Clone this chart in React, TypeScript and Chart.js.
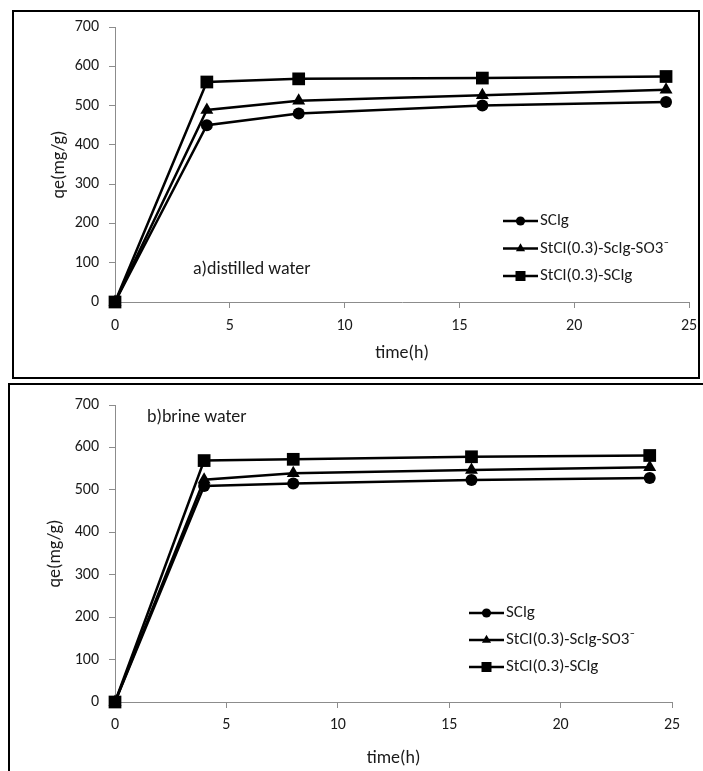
import React, { useEffect, useRef } from "react";
import { Chart, registerables } from "chart.js";

Chart.register(...registerables);

// ---- data ----
const timeH = [0, 4, 8, 16, 24];
const seriesNames = ["SClg", "StCl(0.3)-Sclg-SO3\u207B", "StCl(0.3)-SClg"];
const xTicks = [0, 5, 10, 15, 20, 25];
const yTicks = [0, 100, 200, 300, 400, 500, 600, 700];

const distilledSClg = [0, 450, 480, 500, 509];
const distilledSO3 = [0, 489, 512, 526, 540];
const distilledStCl = [0, 560, 568, 570, 574];

const brineSClg = [0, 509, 515, 523, 528];
const brineSO3 = [0, 524, 539, 547, 553];
const brineStCl = [0, 569, 572, 578, 581];

const panelTitles = ["a)distilled water", "b)brine water"];
const xTitle = "time(h)";
const yTitle = "qe(mg/g)";

// ---- styles ----
const FONT_FAMILY = "Carlito, 'Liberation Sans Narrow', 'Open Sans', sans-serif";
const TICK_SIZE = 16;
const TITLE_SIZE = 18;
const LEGEND_SIZE = 17;
const NOTE_SIZE = 18;
const TEXT = "#1a1a1a";
const AXIS = "#8c8c8c";
const styles = ["circle", "triangle", "rect"];
const radii = [6, 7.5, 9];

function drawMarker(ctx: CanvasRenderingContext2D, kind: string, x: number, y: number, s: number) {
  ctx.beginPath();
  if (kind === "circle") {
    ctx.arc(x, y, s, 0, Math.PI * 2);
  } else if (kind === "triangle") {
    const r = s * 1.15;
    ctx.moveTo(x, y - r);
    ctx.lineTo(x + r * 0.866, y + r * 0.5);
    ctx.lineTo(x - r * 0.866, y + r * 0.5);
    ctx.closePath();
  } else {
    ctx.rect(x - s, y - s, 2 * s, 2 * s);
  }
  ctx.fill();
}

type PanelProps = {
  box: { left: number; top: number; width: number; height: number };
  cw: number;
  ch: number;
  values: number[][];
  padLeft: number;
  yScaleW: number;
  xScaleH: number;
  padRight: number;
  padTop: number;
  xTitlePad: number;
  xTickPad: number;
  legendX: number;
  legendY: number;
  legendGap: number;
  note: string;
  noteX: number;
  noteY: number;
};

function Panel(p: PanelProps) {
  const ref = useRef<HTMLCanvasElement | null>(null);
  useEffect(() => {
    if (!ref.current) return;
    const tickFont = { family: FONT_FAMILY, size: TICK_SIZE };
    const titleFont = { family: FONT_FAMILY, size: TITLE_SIZE };
    const overlay = {
      id: "overlay",
      afterDraw(chart: any) {
        const { ctx, chartArea } = chart;
        ctx.save();
        ctx.fillStyle = TEXT;
        ctx.textBaseline = "middle";
        ctx.textAlign = "left";
        ctx.font = `${NOTE_SIZE}px ${FONT_FAMILY}`;
        ctx.fillText(p.note, chartArea.left + p.noteX, chartArea.top + p.noteY);
        ctx.font = `${LEGEND_SIZE}px ${FONT_FAMILY}`;
        seriesNames.forEach((name, i) => {
          const x0 = chartArea.left + p.legendX;
          const y = chartArea.top + p.legendY + i * p.legendGap;
          ctx.strokeStyle = "#000";
          ctx.lineWidth = 2.5;
          ctx.beginPath();
          ctx.moveTo(x0, y);
          ctx.lineTo(x0 + 35, y);
          ctx.stroke();
          ctx.fillStyle = "#000";
          drawMarker(ctx, styles[i], x0 + 17.5, y, i === 2 ? 5 : 4.6);
          ctx.fillStyle = TEXT;
          ctx.fillText(name, x0 + 37, y);
        });
        ctx.restore();
      },
    };
    const chart = new Chart(ref.current, {
      type: "line",
      data: {
        datasets: p.values.map((vals, i) => ({
          label: seriesNames[i],
          data: timeH.map((t, j) => ({ x: t, y: vals[j] })),
          borderColor: "#000",
          backgroundColor: "#000",
          borderWidth: 2.5,
          pointStyle: styles[i] as any,
          pointRadius: radii[i],
          pointBorderWidth: 0,
          tension: 0,
          clip: false as any,
        })),
      },
      options: {
        animation: false,
        responsive: false,
        maintainAspectRatio: false,
        layout: { padding: { left: p.padLeft, right: p.padRight, top: p.padTop, bottom: 0 } },
        plugins: { legend: { display: false }, tooltip: { enabled: false } },
        scales: {
          x: {
            type: "linear",
            min: 0,
            max: 25,
            afterBuildTicks: (s: any) => {
              s.ticks = xTicks.map((v) => ({ value: v }));
            },
            afterFit: (s: any) => {
              s.height = p.xScaleH;
              s.paddingLeft = 0;
              s.paddingRight = 0;
            },
            grid: { drawOnChartArea: false, drawTicks: true, tickLength: 6, color: AXIS },
            border: { color: AXIS, width: 1 },
            ticks: { font: tickFont, color: TEXT, padding: p.xTickPad, maxRotation: 0 },
            title: { display: true, text: xTitle, font: titleFont, color: TEXT, padding: { top: 0, bottom: p.xTitlePad } },
          },
          y: {
            type: "linear",
            min: 0,
            max: 700,
            afterBuildTicks: (s: any) => {
              s.ticks = yTicks.map((v) => ({ value: v }));
            },
            afterFit: (s: any) => {
              s.width = p.yScaleW;
              s.paddingTop = 0;
              s.paddingBottom = 0;
            },
            grid: { drawOnChartArea: false, drawTicks: true, tickLength: 6, color: AXIS },
            border: { color: AXIS, width: 1 },
            ticks: { font: tickFont, color: TEXT, padding: 10 },
            title: { display: true, text: yTitle, font: titleFont, color: TEXT, padding: { top: 0, bottom: 0 } },
          },
        },
      },
      plugins: [overlay],
    });
    return () => chart.destroy();
  }, []);
  return (
    <div
      style={{
        position: "absolute",
        left: p.box.left,
        top: p.box.top,
        width: p.box.width,
        height: p.box.height,
        border: "2px solid #000",
        boxSizing: "border-box",
        background: "#fff",
      }}
    >
      <canvas ref={ref} width={p.cw} height={p.ch} style={{ display: "block", width: p.cw, height: p.ch }} />
    </div>
  );
}

export default function App() {
  return (
    <div style={{ position: "absolute", left: 0, top: 0, width: 703, height: 771, overflow: "hidden", background: "#fff" }}>
      <Panel
        box={{ left: 12, top: 10, width: 688, height: 369 }}
        cw={684}
        ch={365}
        values={[distilledSClg, distilledSO3, distilledStCl]}
        padLeft={35}
        yScaleW={66}
        xScaleH={75}
        padRight={9}
        padTop={15}
        xTitlePad={13}
        xTickPad={8}
        legendX={388}
        legendY={194}
        legendGap={27.5}
        note={panelTitles[0]}
        noteX={78}
        noteY={242}
      />
      <Panel
        box={{ left: 8, top: 383, width: 720, height: 410 }}
        cw={693}
        ch={386}
        values={[brineSClg, brineSO3, brineStCl]}
        padLeft={35}
        yScaleW={70}
        xScaleH={69}
        padRight={31}
        padTop={20}
        xTitlePad={2}
        xTickPad={7}
        legendX={354}
        legendY={208}
        legendGap={27}
        note={panelTitles[1]}
        noteX={32}
        noteY={12}
      />
    </div>
  );
}
